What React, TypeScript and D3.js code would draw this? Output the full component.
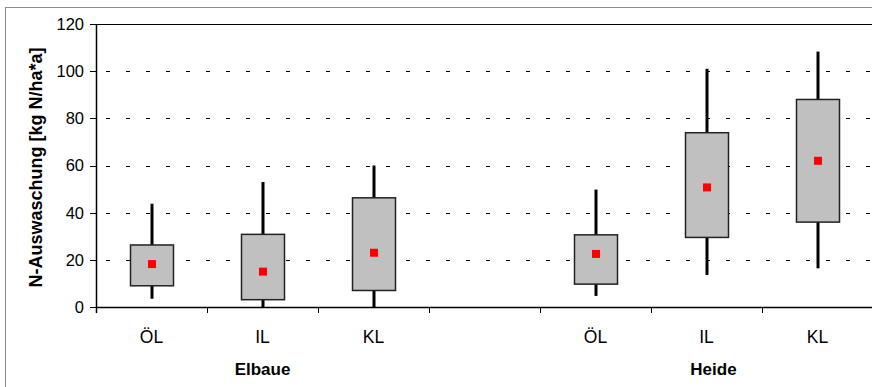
import * as d3 from 'd3'

const slots = ['e-ÖL', 'e-IL', 'e-KL', 'gap', 'h-ÖL', 'h-IL', 'h-KL']
const slotLabels = ['ÖL', 'IL', 'KL', '', 'ÖL', 'IL', 'KL']
const groups = [{ name: 'Elbaue', at: 'e-IL' }, { name: 'Heide', at: 'h-IL' }]
const whiskerLow = [3.5, 0, 0, null, 4.7, 13.6, 16.4]
const q1 = [9, 3.1, 7, null, 9.7, 29.5, 36]
const q3 = [26.3, 30.8, 46.3, null, 30.6, 73.9, 88]
const whiskerHigh = [43.8, 53, 60, null, 49.8, 101, 108.3]
const means = [18.2, 15, 23, null, 22.5, 50.7, 62]
const yTicks = [0, 20, 40, 60, 80, 100, 120]

const W = 872, H = 387
const m = { left: 96, right: -1, top: 24, bottom: 80 }

export default function App() {
  const x = d3.scaleBand<string>().domain(slots).range([m.left, W - m.right])
  const y = d3.scaleLinear().domain([0, 120]).range([H - m.bottom, m.top])
  const bw = 43
  const font = 'Liberation Sans, Arial, sans-serif'
  const y0 = y(0)
  return (
    <svg width={W} height={H} style={{ position: 'absolute', left: 0, top: 0, background: '#fff' }} fontFamily={font}>
      <rect x={5.5} y={7.5} width={W + 20} height={H + 20} fill="none" stroke="#8c8c8c" />
      {yTicks.filter(t => t > 0 && t < 120).map(t => (
        <line key={t} x1={m.left} x2={W} y1={Math.round(y(t)) + 0.5} y2={Math.round(y(t)) + 0.5}
          stroke="#000" strokeDasharray="4,16" strokeDashoffset={-10} />
      ))}
      <line x1={m.left} x2={W} y1={Math.round(y(120)) + 0.5} y2={Math.round(y(120)) + 0.5} stroke="#000" />
      {slots.map((s, i) => {
        if (q1[i] == null) return null
        const cx = Math.round(x(s)! + x.bandwidth() / 2)
        return (
          <g key={s}>
            <line x1={cx} x2={cx} y1={y(whiskerLow[i]!)} y2={y(whiskerHigh[i]!)} stroke="#000" strokeWidth={3} />
            <rect x={cx - bw / 2} y={y(q3[i]!)} width={bw} height={y(q1[i]!) - y(q3[i]!)}
              fill="#c0c0c0" stroke="#222" strokeWidth={1.5} />
            <rect x={cx - 4} y={y(means[i]!) - 4} width={8} height={8} fill="#ff0000" />
          </g>
        )
      })}
      <line x1={m.left + 0.5} x2={m.left + 0.5} y1={m.top} y2={y0 + 6} stroke="#000" strokeWidth={1.5} />
      <line x1={m.left} x2={W} y1={y0 + 0.5} y2={y0 + 0.5} stroke="#000" strokeWidth={1.5} />
      {yTicks.map(t => (
        <g key={t}>
          <line x1={m.left - 6} x2={m.left} y1={Math.round(y(t)) + 0.5} y2={Math.round(y(t)) + 0.5} stroke="#000" />
          <text x={84} y={y(t)} dy="0.36em" textAnchor="end" fontSize={16.5}>{t}</text>
        </g>
      ))}
      {slots.map(s => (
        <line key={s} x1={Math.round(x(s)!) + 0.5} x2={Math.round(x(s)!) + 0.5} y1={y0} y2={y0 + 6} stroke="#000" />
      ))}
      {slots.map((s, i) => (
        <text key={s} x={x(s)! + x.bandwidth() / 2} y={343} textAnchor="middle" fontSize={17.5}>{slotLabels[i]}</text>
      ))}
      {groups.map(g => (
        <text key={g.name} x={x(g.at)! + x.bandwidth() / 2 + (g.name === 'Heide' ? 7 : 0)} y={375}
          textAnchor="middle" fontSize={17} fontWeight="bold">{g.name}</text>
      ))}
      <text transform={`translate(42,${(m.top + y0) / 2 + 2}) rotate(-90)`} textAnchor="middle" fontSize={18} fontWeight="bold">
        N-Auswaschung [kg N/ha*a]
      </text>
    </svg>
  )
}
